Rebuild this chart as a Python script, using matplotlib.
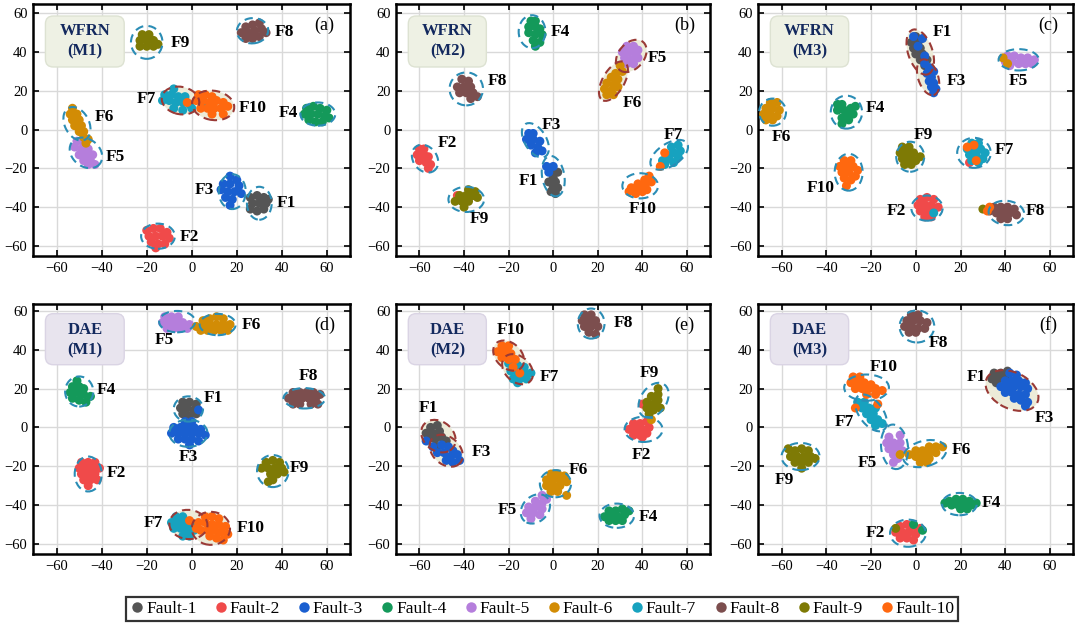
import matplotlib
matplotlib.use("Agg")
import matplotlib.pyplot as plt
from matplotlib.patches import Ellipse, FancyBboxPatch
from matplotlib.lines import Line2D

plt.rcParams['font.family'] = ['Liberation Serif', 'DejaVu Serif']

fault_names = ["Fault-1", "Fault-2", "Fault-3", "Fault-4", "Fault-5",
               "Fault-6", "Fault-7", "Fault-8", "Fault-9", "Fault-10"]
fault_colors = ["#555555", "#f04a4a", "#1a5fd0", "#14995a", "#b57edc",
                "#d28c05", "#17a2bf", "#7c4e4e", "#7e7a05", "#ff680f"]

panel_tags = ["(a)", "(b)", "(c)", "(d)", "(e)", "(f)"]
panel_models = ["WFRN\n(M1)", "WFRN\n(M2)", "WFRN\n(M3)", "DAE\n(M1)", "DAE\n(M2)", "DAE\n(M3)"]

# t-SNE points, per panel, per fault
pts_a = {
    1: [(26,-35),(29,-34),(32,-35),(27,-38),(30,-38),(33,-38),(26,-41),(29,-42),(32,-41),(34,-36)],
    2: [(-20,-52),(-17,-51),(-14,-51),(-11,-53),(-19,-55),(-16,-55),(-13,-55),(-10,-56),(-18,-58),(-15,-59),(-12,-59),(-16,-61)],
    3: [(17,-24),(20,-26),(14,-28),(17,-28),(21,-29),(13,-31),(16,-32),(19,-32),(22,-33),(15,-35),(18,-36),(17,-39)],
    4: [(51,11),(54,12),(57,11),(60,10),(50,8),(53,8),(56,8),(59,7),(52,5),(55,4),(58,4),(61,6)],
    5: [(-51,-6),(-48,-7),(-52,-9),(-49,-10),(-46,-10),(-50,-13),(-47,-13),(-44,-13),(-48,-16),(-45,-16),(-43,-18),(-46,-18)],
    6: [(-53,11),(-54,8),(-51,8),(-53,5),(-50,5),(-52,2),(-49,2),(-50,-1),(-48,-1),(-48,-4),(-46,-5),(-47,-7)],
    7: [(-8,21),(-12,18),(-9,18),(-6,17),(-3,17),(-13,15),(-10,15),(-7,14),(-4,14),(-1,13),(-8,11),(-4,10),(0,11),(5,12)],
    8: [(24,53),(27,54),(30,55),(22,50),(25,50),(28,51),(31,52),(33,50),(24,47),(27,47),(30,48)],
    9: [(-22,49),(-19,49),(-23,46),(-20,46),(-17,46),(-23,43),(-20,43),(-17,43),(-15,44)],
    10: [(3,18),(6,18),(9,17),(2,15),(5,15),(8,14),(11,15),(14,14),(4,11),(7,11),(10,11),(13,11),(16,12),(9,8),(14,8),(-2,14)],
}
pts_b = {
    1: [(-1,-22),(2,-22),(0,-25),(-2,-27),(1,-27),(0,-30),(2,-30),(-1,-32),(1,-33)],
    2: [(-60,-10),(-58,-10),(-61,-13),(-58,-13),(-56,-14),(-60,-16),(-57,-17),(-55,-18),(-56,-20),(-43,-34)],
    3: [(-11,-2),(-9,-2),(-12,-5),(-9,-5),(-6,-6),(-10,-8),(-7,-9),(-5,-11),(-8,-12),(-3,-19),(0,-19),(-2,-22)],
    4: [(-10,56),(-8,56),(-11,53),(-8,53),(-6,52),(-11,50),(-8,49),(-5,49),(-9,46),(-6,45),(-8,43)],
    5: [(33,43),(36,43),(38,41),(31,40),(34,40),(37,39),(32,37),(35,36),(38,37),(33,34),(36,34)],
    6: [(30,33),(31,30),(28,29),(26,27),(29,26),(24,24),(27,23),(29,22),(23,21),(26,20),(24,18),(27,18)],
    7: [(56,-8),(53,-9),(57,-11),(54,-12),(51,-13),(56,-14),(52,-15),(49,-16),(54,-17),(50,-18)],
    8: [(-41,26),(-38,25),(-43,22),(-40,22),(-37,22),(-42,19),(-39,19),(-36,19),(-37,16),(-34,17)],
    9: [(-38,-31),(-35,-32),(-42,-34),(-39,-34),(-36,-34),(-34,-35),(-44,-37),(-41,-37),(-38,-37),(-40,-40)],
    10: [(43,-24),(41,-26),(44,-27),(38,-28),(41,-29),(35,-30),(38,-31),(42,-31),(34,-32),(37,-33),(40,-32),(50,-12),(48,-19)],
}
pts_c = {
    1: [(0,48),(-2,45),(1,45),(-1,42),(2,42),(0,39),(3,39),(2,36),(5,36),(4,33),(6,31)],
    2: [(2,-36),(5,-35),(8,-36),(1,-39),(4,-39),(7,-39),(10,-40),(2,-42),(5,-42),(8,-42),(4,-45),(7,-45),(24,-17)],
    3: [(4,34),(6,32),(8,30),(5,29),(7,27),(6,25),(8,24),(7,22),(9,21),(8,19),(-1,48),(3,47),(1,43),(4,38)],
    4: [(-35,13),(-33,13),(-35,10),(-32,10),(-29,11),(-27,12),(-31,8),(-28,8),(-33,6),(-33,3),(-30,5)],
    5: [(41,38),(44,38),(47,37),(50,37),(53,36),(40,35),(43,35),(46,34),(49,34),(52,34),(42,33)],
    6: [(-65,14),(-62,14),(-67,11),(-64,11),(-61,10),(-68,8),(-65,8),(-62,7),(-67,5),(-64,5),(39,37),(41,34)],
    7: [(25,-7),(28,-7),(23,-10),(26,-10),(29,-10),(31,-12),(24,-13),(27,-13),(30,-15),(25,-16),(28,-17),(8,-43)],
    8: [(35,-40),(38,-40),(41,-40),(44,-41),(33,-42),(36,-43),(39,-43),(42,-43),(45,-44),(38,-46),(41,-46)],
    9: [(-6,-9),(-3,-9),(-7,-12),(-4,-12),(-1,-12),(2,-14),(-6,-15),(-3,-15),(0,-16),(-5,-18),(-2,-18),(30,-41)],
    10: [(-32,-16),(-29,-16),(-34,-19),(-31,-19),(-28,-19),(-26,-21),(-33,-22),(-30,-22),(-27,-24),(-32,-25),(-29,-26),(-31,-29),
         (23,-9),(26,-8),(27,-16),(32,-42),(33,-40)],
}
pts_d = {
    1: [(-4,13),(-1,13),(2,12),(-5,10),(-2,10),(1,9),(-4,7),(-1,6),(2,7),(-2,4)],
    2: [(-49,-18),(-46,-18),(-43,-18),(-50,-21),(-47,-21),(-44,-21),(-41,-21),(-49,-24),(-46,-24),(-43,-24),(-48,-27),(-45,-27),(-42,-27),(-46,-30)],
    3: [(-3,3),(0,3),(-8,0),(-5,0),(-2,0),(1,0),(4,-1),(-9,-3),(-6,-3),(-3,-3),(0,-3),(3,-3),(6,-4),(-6,-6),(-3,-6),(0,-6),(3,-7),(-1,-9),(3,9)],
    4: [(-51,24),(-53,21),(-50,21),(-48,20),(-54,18),(-51,18),(-48,17),(-45,16),(-53,15),(-50,14),(-47,13)],
    5: [(-12,57),(-9,57),(-6,57),(-13,54),(-10,54),(-7,54),(-4,54),(-1,53),(-11,51),(-8,51),(-5,51),(-2,51)],
    6: [(5,55),(8,56),(11,57),(14,56),(2,52),(5,52),(8,53),(11,53),(14,53),(17,53),(4,50),(7,50),(10,50),(13,50),(16,50)],
    7: [(-7,-46),(-4,-46),(-9,-49),(-6,-49),(-3,-49),(0,-50),(-8,-52),(-5,-52),(-2,-53),(1,-53),(-1,-56),(-4,-56)],
    8: [(45,18),(48,18),(51,18),(54,18),(57,17),(43,15),(46,15),(49,15),(52,15),(55,15),(45,12),(48,12),(53,12),(56,12)],
    9: [(33,-18),(36,-17),(39,-18),(31,-21),(34,-21),(37,-21),(40,-21),(35,-24),(38,-24),(41,-23),(36,-27),(34,-28)],
    10: [(6,-46),(9,-46),(12,-47),(3,-49),(6,-49),(9,-50),(12,-50),(15,-51),(4,-53),(7,-53),(10,-53),(13,-54),(16,-55),(8,-56),(11,-57),(14,-58),(-1,-48),(2,-52)],
}
pts_e = {
    1: [(-55,0),(-52,1),(-57,-3),(-54,-3),(-51,-2),(-56,-6),(-53,-6),(-50,-5),(-48,-7),(-52,-10)],
    2: [(36,2),(39,2),(42,3),(34,-1),(37,-1),(40,-1),(43,0),(36,-4),(39,-4),(42,-3),(40,-5),(40,12)],
    3: [(-57,-7),(-54,-10),(-50,-9),(-47,-10),(-45,-12),(-52,-13),(-49,-13),(-46,-15),(-43,-14),(-48,-17),(-45,-18),(-42,-17)],
    4: [(25,-43),(28,-43),(31,-42),(34,-43),(23,-46),(26,-46),(29,-46),(32,-45),(25,-48),(28,-48),(31,-48)],
    5: [(-5,-35),(-3,-37),(-8,-38),(-5,-39),(-11,-41),(-8,-41),(-5,-42),(-12,-44),(-9,-44),(-6,-45),(-10,-47)],
    6: [(-1,-24),(2,-24),(5,-25),(-3,-27),(0,-27),(3,-27),(6,-28),(-3,-30),(0,-30),(3,-30),(-1,-33),(2,-33),(6,-35),(44,4)],
    7: [(-20,33),(-16,32),(-13,31),(-19,29),(-16,28),(-13,28),(-10,28),(-18,25),(-15,25),(-12,25),(-16,23)],
    8: [(14,58),(17,58),(13,55),(16,55),(19,55),(14,52),(17,52),(20,52),(16,49),(19,48)],
    9: [(47,20),(47,17),(44,16),(47,14),(42,13),(45,12),(42,10),(45,9),(48,10),(43,7)],
    10: [(-23,42),(-20,42),(-25,39),(-22,39),(-19,38),(-23,36),(-20,35),(-17,35),(-18,31),(-15,28)],
}
pts_f = {
    1: [(35,28),(38,28),(41,29),(34,25),(37,25),(40,26),(36,23)],
    2: [(-7,-51),(-4,-50),(-1,-51),(2,-52),(-9,-54),(-6,-54),(-3,-54),(0,-55),(-7,-57),(-4,-57),(-1,-58)],
    3: [(42,28),(45,27),(40,24),(43,24),(46,24),(49,23),(38,21),(41,21),(44,21),(47,21),(50,20),(40,18),(43,18),(46,17),(49,17),(44,15),(47,14),(50,13),(49,11)],
    4: [(15,-38),(18,-37),(21,-37),(24,-38),(13,-39),(16,-40),(19,-40),(22,-40),(25,-40),(27,-39),(20,-42),(23,-42),(3,-53),(-1,-50)],
    5: [(-12,-5),(-7,-4),(-13,-8),(-10,-8),(-7,-8),(-12,-11),(-9,-11),(-6,-12),(-10,-14),(-8,-16),(-10,-18)],
    6: [(6,-10),(9,-10),(12,-10),(0,-12),(3,-12),(6,-13),(9,-13),(-3,-14),(0,-15),(3,-15),(6,-16),(2,-18),(5,-18),(-7,-14)],
    7: [(-26,13),(-23,13),(-24,10),(-21,10),(-18,10),(-22,7),(-19,7),(-20,4),(-17,4),(-18,1),(-15,2)],
    8: [(-2,58),(1,58),(-4,55),(-1,55),(2,55),(5,54),(-5,52),(-2,52),(1,51),(4,51),(-3,49),(0,49)],
    9: [(-57,-11),(-54,-12),(-51,-11),(-48,-12),(-56,-15),(-53,-15),(-50,-15),(-47,-15),(-45,-16),(-54,-18),(-51,-18),(-48,-18),(-51,-21),(-9,-52)],
    10: [(-28,26),(-25,26),(-29,23),(-26,23),(-23,23),(-20,22),(-27,20),(-24,20),(-21,20),(-18,20),(-15,19),(-22,17),(-18,17),(-27,10),(-17,12)],
}
all_pts = [pts_a, pts_b, pts_c, pts_d, pts_e, pts_f]

# dashed ellipses: (cx, cy, width, height, angle, kind) kind b = blue, r = red shaded
ell_a = [(-20,45,14,17,0,'b'),(27,51,14,13,15,'b'),(-5,15,17,14,-20,'r'),(9.5,12.5,19,15,-15,'r'),
         (-51,3,11,18,20,'b'),(-47,-12,13,17,35,'b'),(56,8,15.5,12,0,'b'),(18,-32,12,18,0,'b'),
         (30,-38,11,17,0,'b'),(-15,-55,15,13,0,'b')]
ell_b = [(-9.5,50.5,12,17,0,'b'),(35,38,12,18,-30,'r'),(27,25,10,22,-25,'r'),(-39,21,15,17,0,'b'),
         (-8,-5.5,10,19,25,'b'),(0,-24,10,21,8,'b'),(-57.5,-15,11,15,25,'b'),(-39,-36,16,13,0,'b'),
         (52,-13,20,11,40,'b'),(39,-29,16,13,0,'b')]
ell_c = [(2,40,11,24,15,'r'),(5.5,27,9,19,15,'r'),(46,36,18,11,0,'b'),(-64,9,12,14,0,'b'),
         (-31,9,14,17,0,'b'),(-2.5,-14,12.5,15.5,0,'b'),(26,-12,15,15.5,0,'b'),(-30,-22,12.5,19,0,'b'),
         (5,-40.5,14,13,0,'b'),(40.5,-43,16,12.5,-10,'b')]
ell_d = [(-6.5,54.5,16,11,0,'b'),(11.5,53,16,11,0,'b'),(-50,18.5,12.5,15.5,0,'b'),(50,15,18.5,10.5,0,'b'),
         (-1.5,9.5,13,13,0,'b'),(-1.5,-3,17,14,0,'b'),(-46,-24,12,18,0,'b'),(36,-22.5,14,16.5,0,'b'),
         (-1.5,-50,17,15,-10,'r'),(8.5,-52,17,17,-20,'r')]
ell_e = [(17,53.5,12,15.5,0,'b'),(-20,37,12,17,35,'r'),(-16,30,12,17,35,'r'),(-51.5,-4.5,14,18,35,'r'),
         (-48,-12,13,18,35,'r'),(45,14,12,19,-25,'b'),(40.5,-1,17,13,0,'b'),(1,-29,14,14,0,'b'),
         (-8,-42,12,16,-30,'b'),(28.5,-45.5,15.5,12.5,0,'b')]
ell_f = [(0.5,52,15.5,16.5,0,'b'),(43,19,26,18,-35,'r'),(-22,20.5,20,13.5,0,'b'),(-20,7.5,11,21,30,'b'),
         (-9.5,-10,12,23,5,'b'),(4,-13.5,20,13,20,'b'),(-51.5,-15,17,14,0,'b'),(19.5,-39.5,15.5,11.5,0,'b'),
         (-3.5,-54.5,16,14,0,'b')]
all_ells = [ell_a, ell_b, ell_c, ell_d, ell_e, ell_f]

lab_a = [("F9",-5,44.5),("F8",41,50.5),("F7",-20,16),("F10",27,11),("F4",43,8.5),("F6",-39,6.5),
         ("F5",-34,-14),("F3",5.5,-31),("F1",42,-38),("F2",-1,-55.5)]
lab_b = [("F4",3,50.5),("F5",46.7,37),("F6",35.5,13.5),("F8",-25,25),("F3",-0.7,2.5),("F1",-11,-26.5),
         ("F2",-47.4,-7),("F9",-33.3,-46.3),("F7",54,-2.6),("F10",40,-41)]
lab_c = [("F1",12,50.5),("F3",18,25),("F5",46,25),("F6",-60,-3.6),("F4",-18,11),("F9",3.3,-2.7),
         ("F7",39.4,-10.4),("F10",-42.3,-30.2),("F2",-8.5,-42),("F8",53.4,-42)]
lab_d = [("F5",-12,45),("F6",26.7,52.8),("F4",-37.8,19.3),("F8",52,26.5),("F1",9.6,15),("F3",-1.5,-15),
         ("F2",-33.3,-23.6),("F9",48,-21),("F7",-17,-49.4),("F10",26,-52)]
lab_e = [("F8",31.4,53.6),("F10",-19,50.2),("F7",-1.9,26.2),("F1",-56,9.9),("F3",-32.3,-12.5),
         ("F9",43.3,27.9),("F2",39.6,-14.2),("F6",11.4,-21.9),("F5",-20.4,-42.5),("F4",42.5,-46)]
lab_f = [("F8",10,43.7),("F1",27,25.8),("F3",57.5,4.7),("F10",-14.4,31),("F7",-32.1,3),("F5",-21.8,-18.5),
         ("F6",20.4,-11.6),("F9",-58.8,-27),("F4",33.8,-39),("F2",-18,-54.5)]
all_labs = [lab_a, lab_b, lab_c, lab_d, lab_e, lab_f]

fig = plt.figure(figsize=(10.8, 6.23), dpi=100)

lefts = [0.0306, 0.3667, 0.7019]
widths = [0.2935, 0.2907, 0.2917]
rows = [(0.5891, 0.4045), (0.1108, 0.4013)]
ylims = [(-65.2, 64.8), (-65.2, 63.6)]

for k in range(6):
    r, c = divmod(k, 3)
    ax = fig.add_axes([lefts[c], rows[r][0], widths[c], rows[r][1]])
    ax.set_xlim(-70.5, 70.3)
    ax.set_ylim(*ylims[r])
    ax.set_xticks(range(-60, 61, 20))
    ax.set_yticks(range(-60, 61, 20))
    ax.grid(True, color="#d9d9d9", linewidth=1.0, zorder=0)
    ax.set_axisbelow(True)
    ax.tick_params(direction="in", top=True, right=True, length=4, width=1.2,
                   labelsize=10.5, pad=4)
    for sp in ax.spines.values():
        sp.set_linewidth(1.8)

    for (cx, cy, w, h, ang, kind) in all_ells[k]:
        if kind == 'r':
            ax.add_patch(Ellipse((cx, cy), w, h, angle=ang, facecolor="#ecebd8",
                                 edgecolor="none", zorder=1.5))
            ec = "#9a3a36"
        else:
            ec = "#2b8db5"
        ax.add_patch(Ellipse((cx, cy), w, h, angle=ang, facecolor="none", edgecolor=ec,
                             linewidth=1.5, linestyle=(0, (4, 2.5)), zorder=4))

    for f in range(1, 11):
        xs = [p[0] for p in all_pts[k][f]]
        ys = [p[1] for p in all_pts[k][f]]
        ax.scatter(xs, ys, s=42, color=fault_colors[f - 1], edgecolors="none", zorder=3)

    for (t, x, y) in all_labs[k]:
        ax.text(x, y, t, fontsize=12.5, fontweight="bold", ha="center", va="center", zorder=5)

    ax.text(59, 54 if r == 0 else 52.8, panel_tags[k], fontsize=13, ha="center", va="center", zorder=5)

    box_fc = "#eef1e4" if r == 0 else "#e8e4ee"
    box_ec = "#dde2d2" if r == 0 else "#dad4e4"
    ax.add_patch(FancyBboxPatch((-65, 32.3), 35, 26.3, boxstyle="round,pad=0,rounding_size=3.5",
                                mutation_aspect=1.16, fc=box_fc, ec=box_ec, lw=1, zorder=4.5))
    ax.text(-47.5, 45.6 if r == 0 else 45, panel_models[k], fontsize=12, fontweight="bold",
            color="#13295e", ha="center", va="center", linespacing=1.35, zorder=5)

handles = [Line2D([0], [0], marker="o", linestyle="none", markersize=7.5,
                  markerfacecolor=fault_colors[i], markeredgecolor="none", label=fault_names[i])
           for i in range(10)]
leg = fig.legend(handles=handles, loc="lower center", bbox_to_anchor=(0.502, 0.003), ncol=10,
                 fontsize=12.5, frameon=True, fancybox=False, edgecolor="black",
                 handletextpad=0.05, columnspacing=0.95, borderpad=0.22, handlelength=0.9,
                 borderaxespad=0.0)
leg.get_frame().set_linewidth(1.6)

fig.savefig("out.png", dpi=100)
